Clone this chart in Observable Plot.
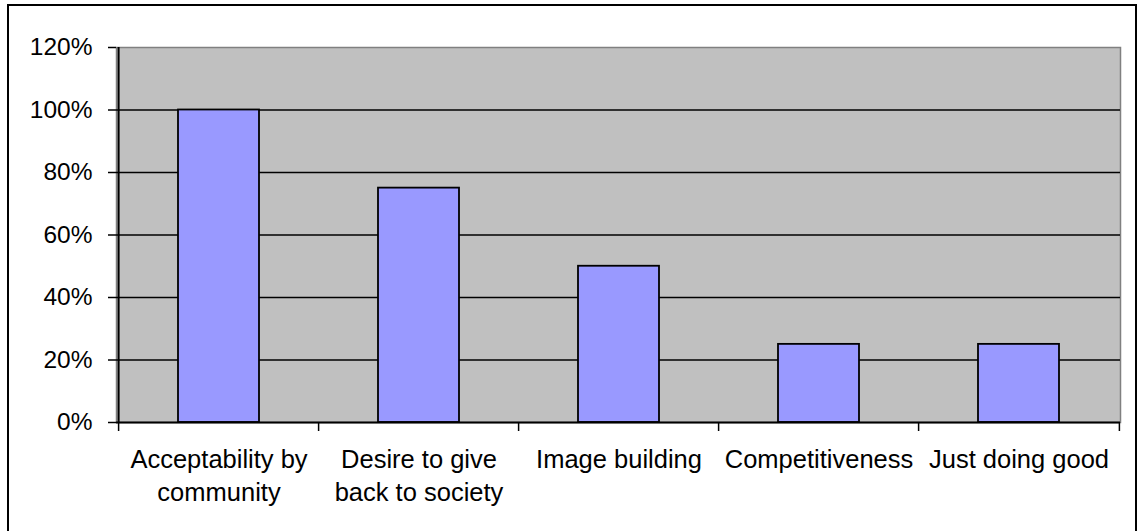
<!DOCTYPE html>
<html>
<head>
<meta charset="utf-8">
<script src="https://cdn.jsdelivr.net/npm/d3@7"></script>
<script src="https://cdn.jsdelivr.net/npm/@observablehq/plot@0.6"></script>
<style>
  html, body { margin: 0; padding: 0; background: #fff; overflow: hidden; }
  #wrap { position: relative; width: 1139px; height: 531px; }
  #border { position: absolute; left: 7px; top: 4px; width: 1126px; height: 540px; border: 2px solid #000; box-sizing: content-box; pointer-events: none; }
  #chart { position: absolute; left: 0; top: 0; }
</style>
</head>
<body>
<div id="wrap"><div id="chart"></div><div id="border"></div></div>
<script>
const categories = ["Acceptability by\ncommunity", "Desire to give\nback to society", "Image building", "Competitiveness", "Just doing good"];
const values = [100, 75, 50, 25, 25];
const yTicks = [0, 20, 40, 60, 80, 100, 120];

const data = categories.map((c, i) => ({category: c, value: values[i]}));

const W = 1139, H = 531;
const mL = 116, mR = 19, mT = 47, mB = 109;
const step = (W - mL - mR) / categories.length;

const chart = Plot.plot({
  width: W,
  height: H,
  marginLeft: mL,
  marginRight: mR,
  marginTop: mT,
  marginBottom: mB,
  style: {fontFamily: "'Liberation Sans', Arial, sans-serif", fontSize: "24px", color: "#000", background: "transparent"},
  x: {domain: categories, paddingInner: 0.595, paddingOuter: 0.2975, label: null},
  y: {domain: [0, 120], label: null},
  marks: [
    Plot.frame({fill: "#c0c0c0", stroke: "#808080", strokeWidth: 1.5}),
    Plot.gridY(yTicks.filter(d => d > 0 && d < 120), {stroke: "#000", strokeOpacity: 1, strokeWidth: 1.5}),
    Plot.barY(data, {x: "category", y: "value", fill: "#9999ff", stroke: "#000", strokeWidth: 1.8}),
    Plot.ruleY([0], {stroke: "#000", strokeWidth: 2}),
    Plot.ruleX([categories[0]], {dx: -step / 2, y1: 0, y2: 120, stroke: "#000", strokeWidth: 2}),
    Plot.axisY(yTicks, {tickSize: 8, tickPadding: 16, tickFormat: d => d + "%", stroke: "#000", strokeWidth: 1.5, fontSize: 24.5, label: null}),
    Plot.axisX({tickSize: 9, text: null, dx: -step / 2, stroke: "#000", strokeWidth: 1.5, label: null}),
    Plot.axisX([categories[categories.length - 1]], {tickSize: 9, text: null, dx: step / 2, stroke: "#000", strokeWidth: 1.5, label: null}),
    Plot.axisX({tickSize: 0, tickPadding: 22, lineHeight: 1.3, fontSize: 25.5, label: null})
  ]
});
document.getElementById("chart").appendChild(chart);
</script>
</body>
</html>
